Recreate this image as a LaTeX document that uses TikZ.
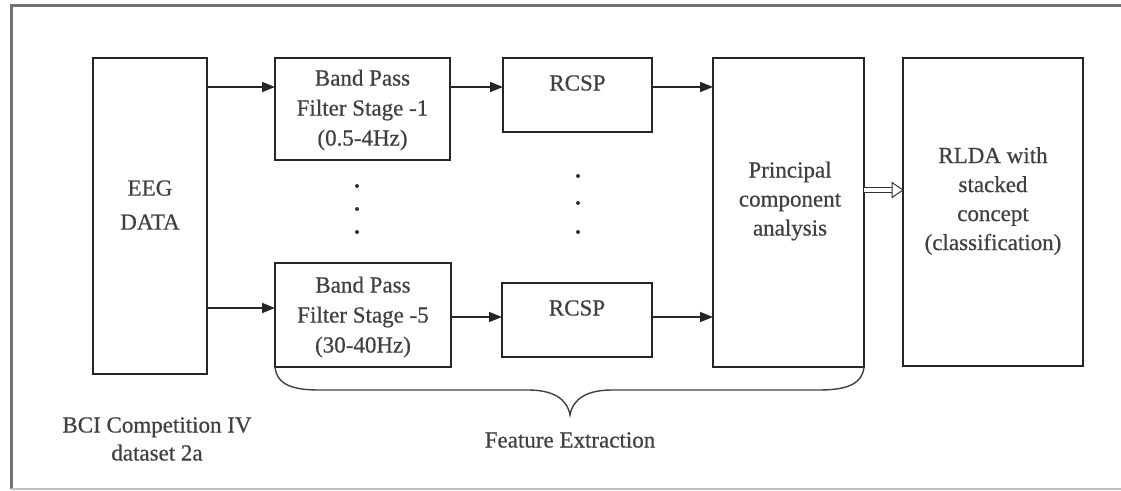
\documentclass[tikz,border=0pt]{standalone}
\usepackage{fontspec}
\setmainfont{Liberation Serif}
\newfontfamily\blockfont[FakeBold=0.6]{Liberation Serif}
\usetikzlibrary{arrows.meta,calc}
\begin{document}
\begin{tikzpicture}[x=1pt,y=-1pt,
  box/.style={draw=black!85, line width=1.8pt, inner sep=0pt, outer sep=0pt},
  lbl/.style={text=black!75, font=\blockfont\fontsize{23}{30}\selectfont, align=center, inner sep=0pt},
  arr/.style={draw=black!85, line width=1.6pt, -{Triangle[length=13pt,width=10pt]}},
  shaft/.style={draw=black!80, line width=0.9pt, double=white, double distance=4pt},
  openhead/.style={draw=black!80, line width=1pt, fill=white, line join=miter},
  dot/.style={circle, fill=black!80, inner sep=0pt, minimum size=4pt},
  brace/.style={draw=black!75, line width=1.4pt}]
\useasboundingbox (0,0) rectangle (1121,490);
% outer frame, open on the right
\draw[black!55, line width=3pt] (1121,5) -- (11,5) -- (11,489);
\draw[black!25, line width=2pt] (11,489) -- (1121,489);

% blocks
\node[box, minimum width=114pt, minimum height=316pt] (eeg) at (150,216) {};
\node[box, minimum width=175pt, minimum height=102pt] (bp1) at (362.5,109) {};
\node[box, minimum width=176pt, minimum height=104pt] (bp5) at (363,315) {};
\node[box, minimum width=149pt, minimum height=74pt] (rc1) at (577.5,95) {};
\node[box, minimum width=150pt, minimum height=74pt] (rc2) at (577,320) {};
\node[box, minimum width=151pt, minimum height=309pt] (pca) at (788.5,212.5) {};
\node[box, minimum width=180pt, minimum height=308pt] (rlda) at (993,212) {};

% block texts
\node[lbl] (teeg) at (150,205) {EEG\\[4pt]DATA};
\node[lbl] (tbp1) at (362.5,110) {Band Pass\\Filter Stage -1\\(0.5-4Hz)};
\node[lbl] (tbp5) at (363,317) {Band Pass\\Filter Stage -5\\(30-40Hz)};
\node[lbl] (trc1) at (577.5,83) {RCSP};
\node[lbl] (trc2) at (577,308) {RCSP};
\node[lbl, font=\blockfont\fontsize{23}{29}\selectfont] (tpca) at (790,201) {Principal\\component\\analysis};
\node[lbl, font=\blockfont\fontsize{23}{29}\selectfont] (trlda) at (993,201) {RLDA with\\stacked\\concept\\(classification)};

% ellipsis dots between the two filter rows
\node[dot] (d1) at (357,186) {};
\node[dot] (d2) at (357,209) {};
\node[dot] (d3) at (357,232) {};
\node[dot] (d4) at (578,176) {};
\node[dot] (d5) at (578,203) {};
\node[dot] (d6) at (578,232) {};

% signal flow
\draw[arr] ([yshift=-29pt]eeg.north east) -- ([yshift=-29pt]bp1.north west);
\draw[arr] ([yshift=-29pt]bp1.north east) -- ([yshift=-29pt]rc1.north west);
\draw[arr] ([yshift=-29pt]rc1.north east) -- ([yshift=-29pt]pca.north west);
\draw[arr] ([yshift=-250pt]eeg.north east) -- ([yshift=-45pt]bp5.north west);
\draw[arr] ([yshift=-54pt]bp5.north east) -- ([yshift=-34pt]rc2.north west);
\draw[arr] ([yshift=-34pt]rc2.north east) -- ([yshift=-259pt]pca.north west);

% hollow double arrow into the classifier
\coordinate (fs) at ([yshift=-132pt]pca.north east);
\coordinate (fe) at ([yshift=-132pt]rlda.north west);
\draw[shaft] (fs) -- ([xshift=-10pt]fe);
\draw[openhead] (fe) -- ([xshift=-11pt,yshift=7.5pt]fe) -- ([xshift=-11pt,yshift=-7.5pt]fe) -- cycle;

% brace under the feature extraction stages
\coordinate (tip) at (570,415);
\draw[brace] (bp5.south west) .. controls (277,386) and (295,390) .. (320,390)
  -- (528,390) .. controls (552,390) and (567,398) .. (tip)
  .. controls (573,398) and (588,390) .. (612,390)
  -- (818,390) .. controls (843,390) and (862,386) .. (pca.south east);

% captions
\node[lbl] (fex) at (570,440) {Feature Extraction};
\node[lbl, font=\blockfont\fontsize{23}{28}\selectfont] (bci) at (157,439) {BCI Competition IV\\dataset 2a};
\end{tikzpicture}
\end{document}
